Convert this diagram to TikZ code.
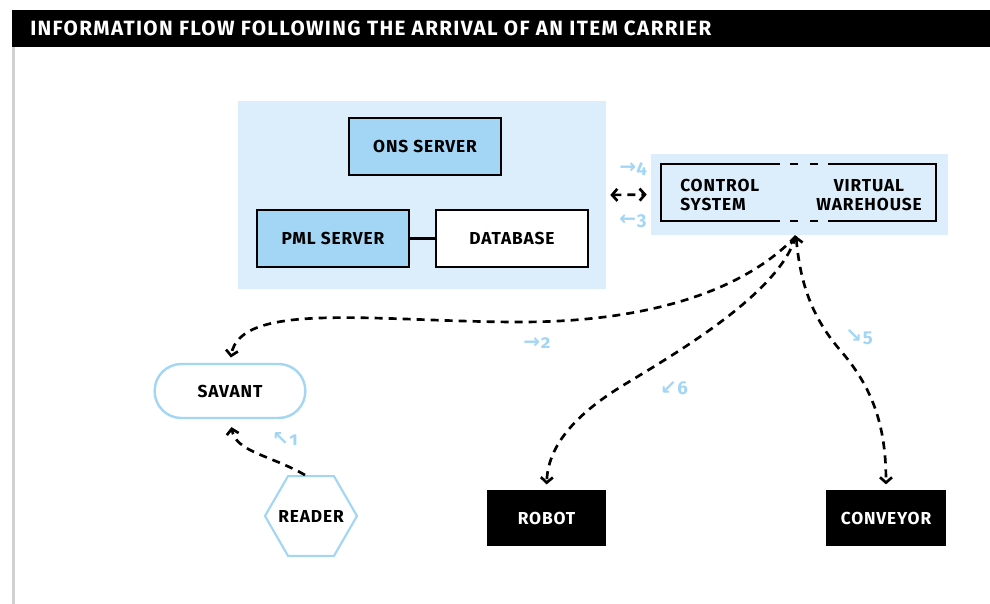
\documentclass[tikz,border=0pt]{standalone}
\usepackage{fontspec}
\setmainfont{Fira Sans}
\newfontfamily\numfont{Fira Sans}[Numbers=OldStyle]
\newfontfamily\arrfont{DejaVu Sans}
\newfontfamily\widefont{Fira Sans}[LetterSpace=5]
\newfontfamily\titlefont{Fira Sans}[LetterSpace=6.5]
\usetikzlibrary{arrows.meta,shapes.geometric}
\definecolor{paleblue}{HTML}{DCEEFB}
\definecolor{midblue}{HTML}{A3D5F5}
\definecolor{rulegray}{HTML}{D0D0D0}
\tikzset{
  nfont/.style={font=\widefont\bfseries\fontsize{13}{14.5}\selectfont},
  srvbox/.style={draw=black, line width=1.8pt, minimum width=114pt, minimum height=42.75pt, inner sep=0pt, nfont},
  txt/.style={inner sep=0pt, nfont},
  blackbox/.style={fill=black, text=white, minimum width=89.5pt, minimum height=42pt, inner sep=0pt, nfont},
  flow/.style={line width=2pt, dash pattern=on 6pt off 4.5pt, line cap=butt},
  tip/.style={-{Straight Barb[length=4pt,width=9pt]}},
  bitip/.style={{Straight Barb[length=4pt,width=9pt]}-{Straight Barb[length=4pt,width=9pt]}},
  lab/.style={text=midblue, inner sep=0pt, font=\bfseries\numfont\fontsize{14}{14}\selectfont},
}
\newcommand{\arr}[1]{{\arrfont\fontsize{15}{15}\selectfont #1}\kern0.5pt}
\begin{document}
\begin{tikzpicture}[x=0.75pt,y=-0.75pt]
\useasboundingbox (0,0) rectangle (990,604);
% title bar and left rule
\fill[black] (12,10) rectangle (990,47);
\node[anchor=west, text=white, inner sep=0pt, font=\titlefont\bfseries\fontsize{15.5}{17}\selectfont] (title) at (30,28) {INFORMATION FLOW FOLLOWING THE ARRIVAL OF AN ITEM CARRIER};
\draw[rulegray, line width=1.6pt] (13.5,47) -- (13.5,604);
% server group
\node[fill=paleblue, minimum width=276pt, minimum height=141pt, inner sep=0pt] (grp) at (422,195) {};
\node[srvbox, fill=midblue] (ons) at (425,146.5) {ONS SERVER};
\node[srvbox, fill=midblue] (pml) at (333,238.5) {PML SERVER};
\node[srvbox, fill=white] (db) at (512,238.5) {DATABASE};
\draw[line width=1.8pt] (pml) -- (db);
% control system / virtual warehouse
\node[fill=paleblue, minimum width=222.75pt, minimum height=60.75pt, inner sep=0pt] (cvbg) at (799.5,194.5) {};
\draw[line width=1.8pt] (780,164) -| (661,221) -- (780,221);
\draw[line width=1.8pt] (828,164) -| (936,221) -- (828,221);
\draw[line width=1.8pt] (790,164) -- (798,164) (810,164) -- (818,164);
\draw[line width=1.8pt] (790,221) -- (798,221) (810,221) -- (818,221);
\node[txt, anchor=west, align=left] (ctrl) at (680,195) {CONTROL\\SYSTEM};
\node[txt, align=center] (vw) at (869,195) {VIRTUAL\\WAREHOUSE};
% other nodes
\node[draw=midblue, line width=1.8pt, fill=white, rounded corners=20pt, minimum width=113pt, minimum height=40.5pt, inner sep=0pt, nfont] (savant) at (230,391) {SAVANT};
\node[draw=midblue, line width=1.6pt, regular polygon, regular polygon sides=6, minimum size=69pt, inner sep=0pt, nfont] (reader) at (311,516) {\makebox[0pt]{READER}};
\node[blackbox] (robot) at (546.5,518) {ROBOT};
\node[blackbox] (conveyor) at (886,518) {CONVEYOR};
% connectors
\coordinate (hub) at (796,236);
\coordinate (rdtop) at (305,475);
\draw[flow, bitip, shorten <=3pt, shorten >=3pt] (grp.east) -- (cvbg.west);
\draw[flow, tip, shorten >=4pt] (hub) .. controls (745,290) and (650,322) .. (520,322) .. controls (380,322) and (240,300) .. (savant.north);
\draw[flow, tip, shorten >=4pt] (hub) .. controls (780,290) and (690,345) .. (627,383) .. controls (585,408) and (548,440) .. (robot.north);
\draw[flow, bitip, shorten >=4pt] (hub) .. controls (800,280) and (810,315) .. (840,350) .. controls (875,390) and (886,430) .. (conveyor.north);
\draw[flow, tip, shorten >=6pt] (rdtop) .. controls (270,455) and (236,452) .. (savant.south);
% step labels
\node[lab] (l4) at (633,169) {\arr{→}4};
\node[lab] (l3) at (633,221) {\arr{←}3};
\node[lab] (l1) at (285,439) {\arr{↖}1};
\node[lab] (l2) at (537,343) {\arr{→}2};
\node[lab] (l5) at (859,337) {\arr{↘}5};
\node[lab] (l6) at (674,388) {\arr{↙}6};
\end{tikzpicture}
\end{document}
